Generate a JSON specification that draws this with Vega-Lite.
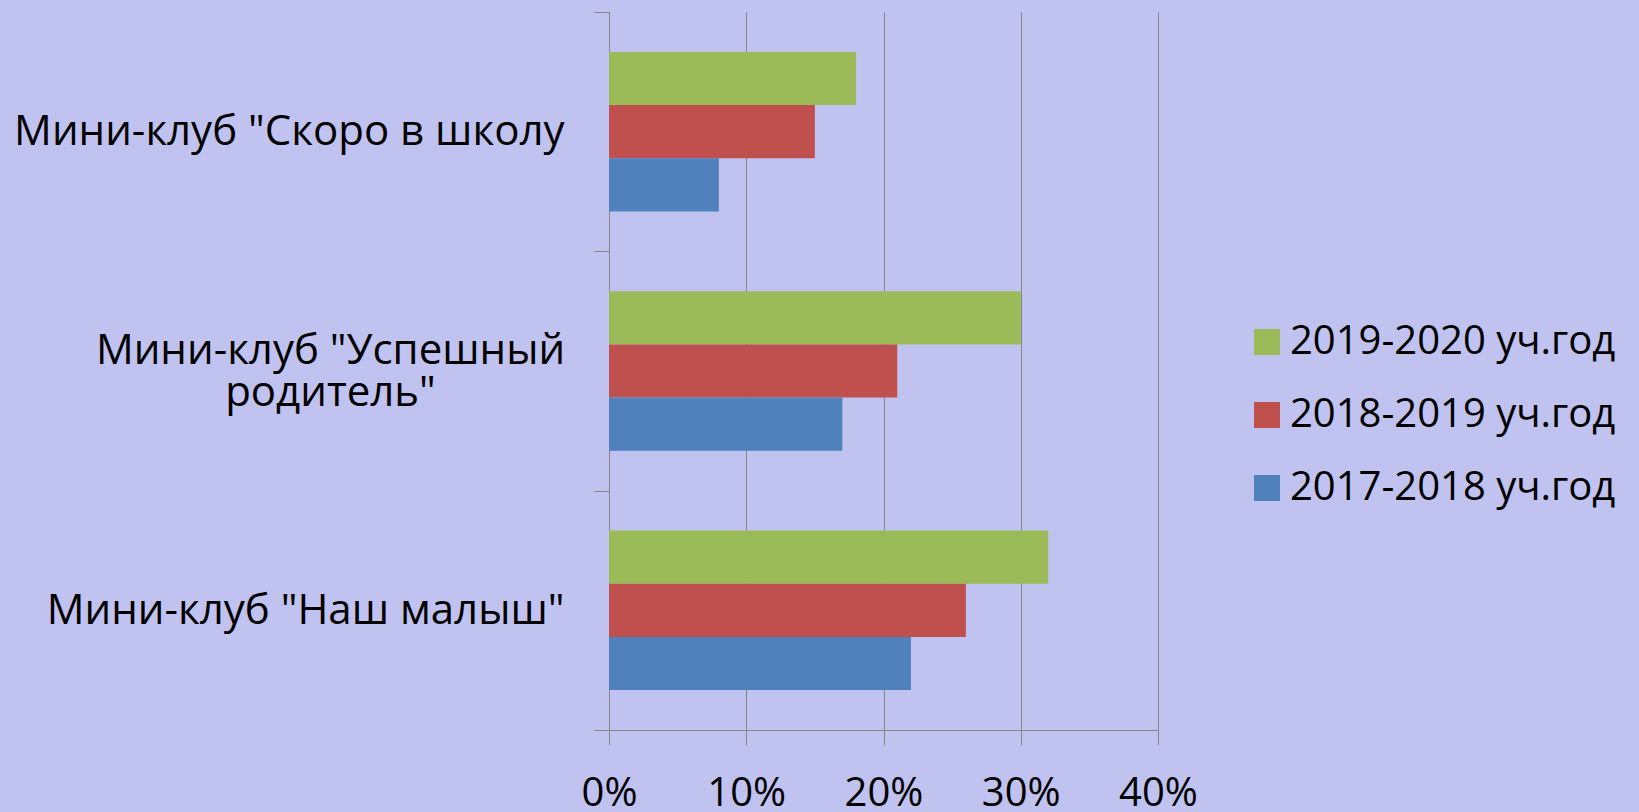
{
  "$schema": "https://vega.github.io/schema/vega-lite/v6.json",
  "width": 549,
  "height": 718,
  "autosize": {"type": "none"},
  "padding": {"left": 609, "top": 12, "right": 481, "bottom": 82},
  "background": "#c0c2f0",
  "data": {
    "values": [
      {"club": "Мини-клуб \"Скоро в школу", "year": "2019-2020 уч.год", "value": 0.18},
      {"club": "Мини-клуб \"Скоро в школу", "year": "2018-2019 уч.год", "value": 0.15},
      {"club": "Мини-клуб \"Скоро в школу", "year": "2017-2018 уч.год", "value": 0.08},
      {"club": "Мини-клуб \"Успешный родитель\"", "year": "2019-2020 уч.год", "value": 0.30},
      {"club": "Мини-клуб \"Успешный родитель\"", "year": "2018-2019 уч.год", "value": 0.21},
      {"club": "Мини-клуб \"Успешный родитель\"", "year": "2017-2018 уч.год", "value": 0.17},
      {"club": "Мини-клуб \"Наш малыш\"", "year": "2019-2020 уч.год", "value": 0.32},
      {"club": "Мини-клуб \"Наш малыш\"", "year": "2018-2019 уч.год", "value": 0.26},
      {"club": "Мини-клуб \"Наш малыш\"", "year": "2017-2018 уч.год", "value": 0.22}
    ]
  },
  "mark": {"type": "bar"},
  "encoding": {
    "y": {
      "field": "club",
      "type": "nominal",
      "sort": ["Мини-клуб \"Скоро в школу", "Мини-клуб \"Успешный родитель\"", "Мини-клуб \"Наш малыш\""],
      "scale": {"paddingInner": 0, "paddingOuter": 0},
      "title": null,
      "axis": {
        "tickBand": "extent",
        "tickSize": 15,
        "tickColor": "#868686",
        "domainColor": "#868686",
        "grid": false,
        "labelFontSize": 42,
        "labelColor": "black",
        "labelLimit": 800,
        "labelLineHeight": 42,
        "labelAlign": {"condition": {"test": "datum.value == 'Мини-клуб \"Успешный родитель\"'", "value": "center"}, "value": "right"},
        "labelPadding": {"condition": {"test": "datum.value == 'Мини-клуб \"Успешный родитель\"'", "value": 264}, "value": 30},
        "labelOffset": {"condition": {"test": "datum.value == 'Мини-клуб \"Успешный родитель\"'", "value": -21}, "value": 0},
        "labelExpr": "datum.value == 'Мини-клуб \"Успешный родитель\"' ? ['Мини-клуб \"Успешный', 'родитель\"'] : datum.value"
      }
    },
    "yOffset": {
      "field": "year",
      "type": "nominal",
      "sort": ["2019-2020 уч.год", "2018-2019 уч.год", "2017-2018 уч.год"],
      "scale": {"paddingInner": 0, "paddingOuter": 0.75}
    },
    "x": {
      "field": "value",
      "type": "quantitative",
      "scale": {"domain": [0, 0.4], "nice": false},
      "title": null,
      "axis": {
        "values": [0, 0.1, 0.2, 0.3, 0.4],
        "format": ".0%",
        "grid": true,
        "gridColor": "#868686",
        "gridOpacity": 1,
        "tickSize": 15,
        "tickColor": "#868686",
        "domainColor": "#868686",
        "labelFontSize": 40,
        "labelColor": "black",
        "labelPadding": 28,
        "labelFlush": false
      }
    },
    "color": {
      "field": "year",
      "type": "nominal",
      "scale": {
        "domain": ["2019-2020 уч.год", "2018-2019 уч.год", "2017-2018 уч.год"],
        "range": ["#9bbb59", "#c0504d", "#4f81bd"]
      },
      "legend": {
        "orient": "none",
        "legendX": 638,
        "legendY": 310,
        "title": null,
        "symbolType": "square",
        "symbolSize": 676,
        "symbolStrokeWidth": 0,
        "symbolOpacity": 1,
        "labelFontSize": 40,
        "labelColor": "black",
        "labelOffset": 3,
        "rowPadding": 33,
        "labelLimit": 600
      }
    }
  },
  "config": {
    "view": {"stroke": null},
    "font": "Open Sans"
  }
}
